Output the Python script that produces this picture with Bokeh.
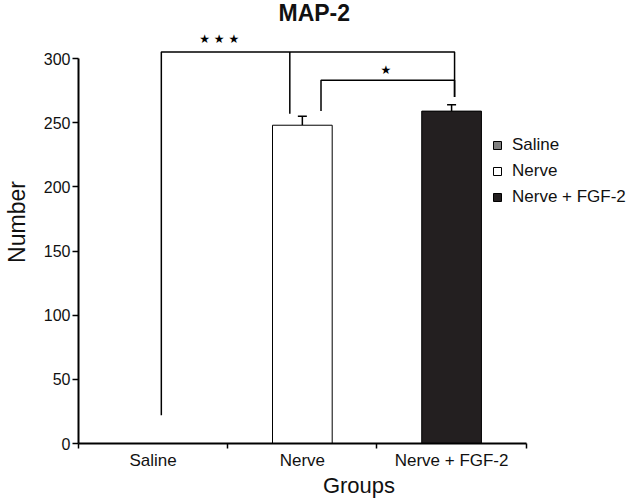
import numpy as np
from bokeh.plotting import figure
from bokeh.models import (Range1d, FixedTicker, Whisker, TeeHead, ColumnDataSource,
                          Legend, LegendItem, Label)
from bokeh.core.properties import value
from bokeh.embed import file_html
from bokeh.resources import INLINE

# ---- data ----
groups = ["Saline", "Nerve", "Nerve + FGF-2"]
means = [0, 248, 259]
errors = [0, 7, 5]
bar_colors = ["#808080", "#ffffff", "#231f20"]
y_ticks = [0, 50, 100, 150, 200, 250, 300]
title_text = "MAP-2"

# significance brackets (x in group-index units, y in data units)
br1_x = [0.055, 0.055, 2.02, 2.02]
br1_y = [22, 305, 305, 270]
br1_mid_x = [0.916, 0.916]
br1_mid_y = [305, 257]
br2_x = [1.125, 1.125, 2.02, 2.02]
br2_y = [259, 283, 283, 270]
star_labels = ["★ ★ ★", "★"]
star_x = [0.443, 1.56]
star_y = [315, 291]

FONT = "Liberation Sans"
W, H = 639, 500
PX_X = 149.5   # px per group
left, right, top, bottom = 77, 0, 0, 57
frame_w = W - left - right
frame_h = H - top - bottom
x0 = -0.5
y_end = 300 * frame_h / 385.0

p = figure(width=W, height=H, output_backend="svg", toolbar_location=None,
           x_range=Range1d(x0, x0 + frame_w / PX_X), y_range=Range1d(0, y_end),
           min_border_left=left, min_border_right=right,
           min_border_top=top, min_border_bottom=bottom)
p.outline_line_color = None
p.xgrid.visible = False
p.ygrid.visible = False
p.background_fill_color = "white"

xs = list(range(len(groups)))
src = ColumnDataSource(dict(x=xs, top=means, color=bar_colors, name=groups))
bars = p.vbar(x="x", top="top", width=0.4, fill_color="color", line_color="black",
              line_width=1, source=src)

# error bars (upward only)
ex = [x for x, e in zip(xs, errors) if e > 0]
elo = [m for m, e in zip(means, errors) if e > 0]
ehi = [m + e for m, e in zip(means, errors) if e > 0]
esrc = ColumnDataSource(dict(x=ex, lower=elo, upper=ehi))
p.add_layout(Whisker(base="x", lower="lower", upper="upper", source=esrc,
                     dimension="height", line_width=1.5, line_color="black",
                     upper_head=TeeHead(size=9, line_width=1.5, line_color="black"),
                     lower_head=None))

# significance brackets
p.line(br1_x, br1_y, line_color="black", line_width=1.5)
p.line(br1_mid_x, br1_mid_y, line_color="black", line_width=1.5)
p.line(br2_x, br2_y, line_color="black", line_width=1.5)
p.text(x=star_x, y=star_y, text=star_labels, text_align="center",
       text_baseline="middle", text_font=value("DejaVu Sans"),
       text_font_size="12px", text_color="black")

# title
p.add_layout(Label(x=1.08, y=335.5, text=title_text, text_align="center",
                   text_baseline="middle", text_font=FONT, text_font_size="23px",
                   text_font_style="bold", text_color="#111111"))

# axes
ya = p.yaxis[0]
ya.ticker = FixedTicker(ticks=y_ticks)
ya.bounds = (0, 300)
ya.axis_label = "Number"
ya.axis_label_text_font = FONT
ya.axis_label_text_font_size = "23px"
ya.axis_label_text_font_style = "normal"
ya.axis_label_standoff = 11
ya.major_label_text_font = FONT
ya.major_label_text_font_size = "16px"
ya.major_label_standoff = 2
ya.major_tick_in = 0
ya.major_tick_out = 6
ya.major_tick_line_width = 1.5
ya.minor_tick_line_color = None
ya.axis_line_width = 2
ya.axis_label_text_color = "#111111"
ya.major_label_text_color = "#111111"

xa = p.xaxis[0]
xa.ticker = FixedTicker(ticks=xs, minor_ticks=[x - 0.5 for x in xs] + [xs[-1] + 0.5])
xa.bounds = (-0.5, xs[-1] + 0.5)
xa.major_label_overrides = {i: g for i, g in zip(xs, groups)}
xa.axis_label = "Groups"
xa.axis_label_text_font = FONT
xa.axis_label_text_font_size = "22px"
xa.axis_label_text_font_style = "normal"
xa.axis_label_standoff = 0
xa.major_label_text_font = FONT
xa.major_label_text_font_size = "17px"
xa.major_label_standoff = 2
xa.major_tick_in = 0
xa.major_tick_out = 0
xa.minor_tick_in = 0
xa.minor_tick_out = 5
xa.minor_tick_line_width = 1.5
xa.minor_tick_line_color = "black"
xa.axis_line_width = 2
xa.axis_label_text_color = "#111111"
xa.major_label_text_color = "#111111"

legend = Legend(items=[LegendItem(label=g, renderers=[bars], index=i)
                       for i, g in enumerate(groups)],
                location=(414, 236), padding=0, margin=0, spacing=6,
                glyph_width=10, glyph_height=10, label_height=20,
                label_standoff=10, label_text_font=FONT, label_text_font_size="17px",
                label_text_color="#111111",
                border_line_color=None, background_fill_alpha=0)
p.add_layout(legend, "center")

open("out.html", "w").write(file_html(p, INLINE))
